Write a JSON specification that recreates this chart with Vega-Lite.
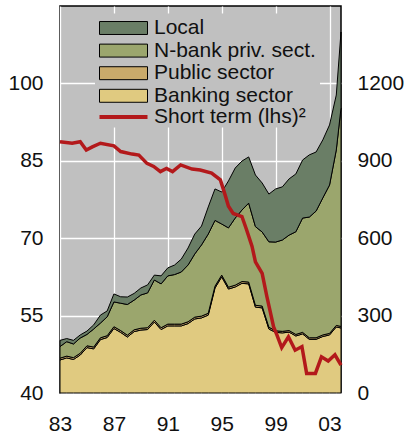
{
  "$schema": "https://vega.github.io/schema/vega-lite/v6.json",
  "width": 281,
  "height": 387,
  "autosize": {"type": "none"},
  "padding": {"left": 60, "top": 6, "right": 65, "bottom": 46},
  "config": {
    "view": {"fill": "#c0c0c0", "stroke": "#000", "strokeWidth": 1.5},
    "font": "Liberation Sans",
    "axis": {"labelFont": "Liberation Sans", "labelFontSize": 21, "labelColor": "#111", "domain": false, "ticks": false, "gridColor": "#ffffff", "gridWidth": 1.3, "gridOpacity": 1},
    "legend": {"labelFont": "Liberation Sans", "labelFontSize": 21, "labelColor": "#111", "labelLimit": 400, "labelOffset": 6, "fillColor": "#c0c0c0", "padding": 4, "title": null}
  },
  "datasets": {
    "wide": [
      {"t":1983,"Banking":128,"Public":7,"Nbank":45,"Local":24},
      {"t":1983.5,"Banking":136,"Public":7,"Nbank":56,"Local":12},
      {"t":1984,"Banking":130,"Public":7,"Nbank":53,"Local":14},
      {"t":1984.5,"Banking":147,"Public":7,"Nbank":59,"Local":12},
      {"t":1985,"Banking":176,"Public":7,"Nbank":44,"Local":13},
      {"t":1985.5,"Banking":171,"Public":7,"Nbank":70,"Local":16},
      {"t":1986,"Banking":207,"Public":7,"Nbank":57,"Local":31},
      {"t":1986.5,"Banking":215,"Public":7,"Nbank":73,"Local":23},
      {"t":1987,"Banking":250,"Public":7,"Nbank":96,"Local":31},
      {"t":1987.5,"Banking":235,"Public":7,"Nbank":106,"Local":25},
      {"t":1988,"Banking":217,"Public":7,"Nbank":119,"Local":29},
      {"t":1988.5,"Banking":238,"Public":7,"Nbank":115,"Local":26},
      {"t":1989,"Banking":244,"Public":7,"Nbank":129,"Local":27},
      {"t":1989.5,"Banking":246,"Public":7,"Nbank":135,"Local":31},
      {"t":1990,"Banking":275,"Public":7,"Nbank":156,"Local":19},
      {"t":1990.5,"Banking":246,"Public":7,"Nbank":170,"Local":31},
      {"t":1991,"Banking":260,"Public":7,"Nbank":187,"Local":31},
      {"t":1991.5,"Banking":260,"Public":7,"Nbank":192,"Local":37},
      {"t":1992,"Banking":260,"Public":7,"Nbank":202,"Local":50},
      {"t":1992.5,"Banking":269,"Public":7,"Nbank":220,"Local":66},
      {"t":1993,"Banking":287,"Public":7,"Nbank":245,"Local":77},
      {"t":1993.5,"Banking":291,"Public":7,"Nbank":276,"Local":73},
      {"t":1994,"Banking":302,"Public":7,"Nbank":307,"Local":105},
      {"t":1994.5,"Banking":407,"Public":7,"Nbank":255,"Local":122},
      {"t":1995,"Banking":450,"Public":7,"Nbank":198,"Local":124},
      {"t":1995.5,"Banking":403,"Public":7,"Nbank":230,"Local":182},
      {"t":1996,"Banking":411,"Public":7,"Nbank":260,"Local":194},
      {"t":1996.5,"Banking":425,"Public":7,"Nbank":277,"Local":190},
      {"t":1997,"Banking":423,"Public":7,"Nbank":306,"Local":179},
      {"t":1997.5,"Banking":333,"Public":7,"Nbank":305,"Local":200},
      {"t":1998,"Banking":330,"Public":7,"Nbank":287,"Local":190},
      {"t":1998.5,"Banking":248,"Public":7,"Nbank":331,"Local":185},
      {"t":1999,"Banking":235,"Public":6,"Nbank":344,"Local":206},
      {"t":1999.5,"Banking":233,"Public":6,"Nbank":354,"Local":206},
      {"t":2000,"Banking":236,"Public":6,"Nbank":370,"Local":218},
      {"t":2000.5,"Banking":221,"Public":6,"Nbank":398,"Local":224},
      {"t":2001,"Banking":229,"Public":6,"Nbank":443,"Local":225},
      {"t":2001.5,"Banking":208,"Public":6,"Nbank":468,"Local":241},
      {"t":2002,"Banking":208,"Public":6,"Nbank":491,"Local":229},
      {"t":2002.5,"Banking":219,"Public":6,"Nbank":531,"Local":225},
      {"t":2003,"Banking":225,"Public":6,"Nbank":575,"Local":233},
      {"t":2003.5,"Banking":256,"Public":6,"Nbank":680,"Local":213},
      {"t":2003.85,"Banking":252,"Public":6,"Nbank":847,"Local":294}
    ],
    "order": [
      {"series":"Banking","ord":1},
      {"series":"Public","ord":2},
      {"series":"Nbank","ord":3},
      {"series":"Local","ord":4}
    ],
    "short": [
      {"t":1983,"v":88.7},{"t":1983.9,"v":88.4},{"t":1984.5,"v":88.7},{"t":1984.95,"v":87.1},
      {"t":1985.4,"v":87.7},{"t":1986,"v":88.4},{"t":1987,"v":87.9},{"t":1987.5,"v":86.8},
      {"t":1988.35,"v":86.3},{"t":1988.85,"v":86.1},{"t":1989.45,"v":84.5},{"t":1989.95,"v":83.9},
      {"t":1990.45,"v":82.9},{"t":1990.9,"v":83.5},{"t":1991.35,"v":82.9},{"t":1991.95,"v":84.2},
      {"t":1992.8,"v":83.4},{"t":1993.4,"v":83.2},{"t":1994.25,"v":82.6},{"t":1994.9,"v":81.3},
      {"t":1995.25,"v":78.4},{"t":1995.5,"v":76.2},{"t":1995.85,"v":74.8},{"t":1996.5,"v":74.2},
      {"t":1996.85,"v":71.6},{"t":1997.25,"v":68.4},{"t":1997.5,"v":65.4},{"t":1998,"v":63.2},
      {"t":1998.35,"v":58.7},{"t":1998.85,"v":52.8},{"t":1999.1,"v":51.2},{"t":1999.45,"v":48.8},
      {"t":1999.95,"v":50.9},{"t":2000.45,"v":48.3},{"t":2000.95,"v":49.0},{"t":2001.3,"v":43.8},
      {"t":2001.95,"v":43.8},{"t":2002.4,"v":47.0},{"t":2002.9,"v":46.2},{"t":2003.4,"v":47.4},
      {"t":2003.85,"v":45.4}
    ]
  },
  "layer": [
    {
      "data": {"name": "wide"},
      "transform": [
        {"fold": ["Banking", "Public", "Nbank", "Local"], "as": ["series", "value"]},
        {"lookup": "series", "from": {"data": {"name": "order"}, "key": "series", "fields": ["ord"]}}
      ],
      "mark": {"type": "area", "stroke": "#000", "strokeWidth": 1, "opacity": 1, "strokeJoin": "miter"},
      "encoding": {
        "x": {
          "field": "t", "type": "quantitative",
          "scale": {"domain": [1983, 2003.85], "nice": false, "zero": false},
          "axis": {"values": [1983, 1987, 1991, 1995, 1999, 2003], "labelExpr": "substring(toString(datum.value), 2)", "title": null, "grid": true, "labelPadding": 20, "labelFlush": false}
        },
        "y": {
          "field": "value", "type": "quantitative", "stack": "zero",
          "scale": {"domain": [0, 1500], "nice": false},
          "axis": {"orient": "right", "values": [0, 300, 600, 900, 1200], "format": "d", "title": null, "grid": false, "labelPadding": 16}
        },
        "fill": {
          "field": "series", "type": "nominal",
          "scale": {"domain": ["Local", "Nbank", "Public", "Banking"], "range": ["#6a7e66", "#9ba66d", "#c9aa6b", "#e0ca80"]},
          "legend": {
            "orient": "none", "legendX": 35, "legendY": 7.5, "zindex": 1,
            "clipHeight": 21, "rowPadding": 0.6,
            "symbolSize": 2304, "symbolType": "M-1,-0.27H1V0.27H-1Z",
            "symbolStrokeColor": "#000", "symbolStrokeWidth": 1, "symbolOpacity": 1,
            "labelExpr": "datum.value === 'Nbank' ? 'N-bank priv. sect.' : datum.value === 'Public' ? 'Public sector' : datum.value === 'Banking' ? 'Banking sector' : datum.value"
          }
        },
        "order": {"field": "ord", "type": "quantitative"}
      }
    },
    {
      "data": {"name": "short"},
      "mark": {"type": "line", "strokeWidth": 3.5, "strokeJoin": "miter"},
      "encoding": {
        "x": {"field": "t", "type": "quantitative"},
        "y": {
          "field": "v", "type": "quantitative",
          "scale": {"domain": [40, 115], "nice": false, "zero": false},
          "axis": {"orient": "left", "values": [40, 55, 70, 85, 100], "title": null, "grid": true, "labelPadding": 17}
        },
        "stroke": {
          "datum": "Short term (lhs)²", "type": "nominal",
          "scale": {"domain": ["Short term (lhs)²"], "range": ["#b3191b"]},
          "legend": {
            "orient": "none", "legendX": 37.5, "legendY": 101.5, "zindex": 3,
            "padding": 0, "clipHeight": 19, "labelOffset": 4.5,
            "symbolSize": 2304, "symbolType": "M-1,0H1", "symbolStrokeWidth": 4, "symbolOpacity": 1
          }
        }
      }
    }
  ],
  "resolve": {"scale": {"y": "independent"}}
}
